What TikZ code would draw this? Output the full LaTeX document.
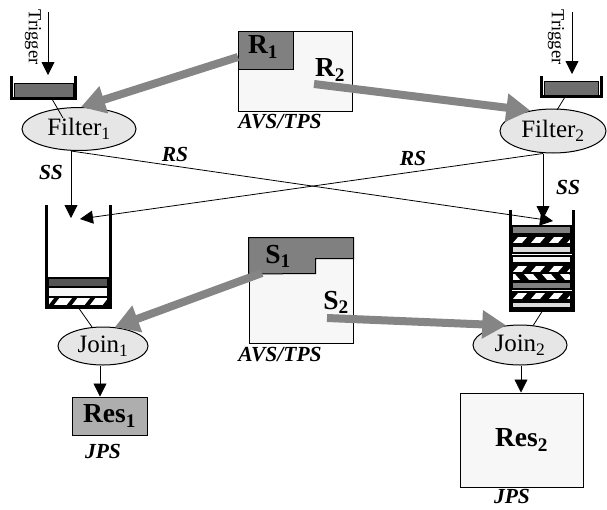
\documentclass[tikz,border=0pt]{standalone}
\usepackage{fontspec}
\setmainfont{Liberation Serif}
\usetikzlibrary{shapes.geometric,arrows.meta}

\definecolor{boxfill}{HTML}{F7F7F7}
\definecolor{ellfill}{HTML}{E6E6E6}
\definecolor{darkfill}{HTML}{808080}
\definecolor{arrgray}{HTML}{858585}
\definecolor{trayfill}{HTML}{6E6E6E}
\definecolor{resfill}{HTML}{AEAEAE}
\definecolor{lightband}{HTML}{DCDCDC}
\definecolor{darkband}{HTML}{555555}

\tikzset{
 ell/.style={ellipse, draw, line width=1pt, fill=ellfill, inner sep=0pt, font=\fontsize{25}{25}\selectfont},
 arr/.style={-{Triangle[length=13pt,width=13pt]}, line width=0.8pt},
 garr/.style={-{Triangle[length=24pt,width=27pt]}, line width=8pt, draw=arrgray},
 lab/.style={font=\fontsize{21.5}{21.5}\selectfont\bfseries\itshape, inner sep=0pt},
 big/.style={font=\fontsize{27.5}{27.5}\selectfont\bfseries, inner sep=0pt},
 trig/.style={font=\fontsize{18.5}{18.5}\selectfont, rotate=-90, inner sep=0pt},
 wall/.style={line width=3pt},
 band/.style={draw, line width=1.2pt},
 thin/.style={line width=0.8pt},
}

\newcommand\stripeband[8]{%
 \begin{scope}
  \clip (#1,#2) rectangle (#3,#4);
  \fill[#5] (#1,#2) rectangle (#3,#4);
  \begin{scope}[shift={(#1,#4)}]
   \foreach \xx in {-18,0,...,72}{
    \fill[#6] (\xx,0) -- (\xx+#8,0) -- (\xx+#8+#7,{-(#4-#2)}) -- (\xx+#7,{-(#4-#2)}) -- cycle;
   }
  \end{scope}
 \end{scope}
 \draw[line width=1.2pt] (#1,#2) rectangle (#3,#4);
}

\begin{document}
\begin{tikzpicture}[x=1pt,y=-1pt]
\useasboundingbox (0,0) rectangle (607,509);

% ---------- top AVS/TPS box ----------
\node[draw, line width=1pt, fill=boxfill, minimum width=114pt, minimum height=80pt, inner sep=0pt] (avs1) at (295,71) {};
\node[draw, line width=1pt, fill=darkfill, minimum width=55pt, minimum height=38pt, inner sep=0pt, anchor=north west] (r1) at (avs1.north west) {};
\node[lab] (avs1lab) at (280,122) {AVS/TPS};

% ---------- trays ----------
\filldraw[fill=trayfill, thin] (14,83) rectangle (73,97);
\draw[wall] (11,76) -- (11,98.5) -- (75,98.5) -- (75,76);
\filldraw[fill=trayfill, thin] (544,81) rectangle (598,95);
\draw[wall] (541,76) -- (541,96.5) -- (601,96.5) -- (601,76);

% ---------- triggers ----------
\coordinate (tr1s) at (48,12);
\coordinate (tr1e) at (48,75);
\draw[arr] (tr1s) -- (tr1e);
\node[trig] (trig1) at (33,37) {Trigger};
\coordinate (tr2s) at (572,12);
\coordinate (tr2e) at (572,74);
\draw[arr] (tr2s) -- (tr2e);
\node[trig] (trig2) at (556,37) {Trigger};

% ---------- filters ----------
\node[ell, minimum width=114pt, minimum height=43pt] (f1) at (79,129) {Filter\textsubscript{1}};
\node[ell, minimum width=106pt, minimum height=44pt] (f2) at (553,131) {Filter\textsubscript{2}};

\coordinate (t1b) at (52,99);
\coordinate (t1e) at (63,118);
\draw[thin] (t1b) -- (t1e);
\coordinate (t2b) at (565,97);
\coordinate (t2e) at (557,110);
\draw[thin] (t2b) -- (t2e);

% ---------- gray arrows from R ----------
\coordinate (r1s) at (238,57);
\draw[garr] (r1s) -- (f1.85);
\coordinate (r2s) at (314,84);
\draw[garr] (r2s) -- (f2.138);
\node[big] (r1lab) at (263,47) {R\textsubscript{1}};
\node[big] (r2lab) at (330,70) {R\textsubscript{2}};

% ---------- SS / RS ----------
\coordinate (c1ss) at (71,218);
\coordinate (c1rs) at (80,219);
\coordinate (c2ss) at (543,219);
\coordinate (c2rs) at (553,221);
\draw[arr] (f1.south -| c1ss) -- (c1ss);
\draw[arr] (f2.south -| c2ss) -- (c2ss);
\draw[arr] (f1.south -| c1ss) -- (c2rs);
\draw[arr] (f2.south -| c2ss) -- (c1rs);
\node[lab] (ss1) at (51,172) {SS};
\node[lab] (ss2) at (568,187) {SS};
\node[lab] (rs1) at (175,154) {RS};
\node[lab] (rs2) at (413,158) {RS};

% ---------- left container ----------
\filldraw[fill=darkband, band] (48,278) rectangle (108,287);
\filldraw[fill=boxfill, band] (48,287) rectangle (108,297);
\stripeband{48}{297}{108}{306}{white}{black}{7}{5}
\draw[wall] (46,205) -- (46,307) -- (110,307) -- (110,205);

% ---------- right container ----------
\filldraw[fill=darkfill, band] (512,226) rectangle (571,234);
\stripeband{512}{236}{571}{244}{black}{white}{7}{9}
\filldraw[fill=lightband, band] (512,246) rectangle (571,253);
\filldraw[fill=boxfill, band] (512,256) rectangle (571,263);
\stripeband{512}{265}{571}{273}{black}{white}{7}{9}
\stripeband{512}{273}{571}{281}{black}{white}{-7}{9}
\filldraw[fill=darkfill, band] (512,282) rectangle (571,289);
\stripeband{512}{292}{571}{300}{black}{white}{7}{9}
\filldraw[fill=lightband, band] (512,302) rectangle (571,308);
\draw[wall] (510,210) -- (510,310) -- (573,310) -- (573,210);

% ---------- lower AVS/TPS box ----------
\node[draw, line width=1pt, fill=boxfill, minimum width=104pt, minimum height=105pt, inner sep=0pt] (avs2) at (301,290.5) {};
\filldraw[fill=darkfill, line width=1pt] (avs2.north west) -- (avs2.north east) -- ++(0,21) -- ++(-38,0) -- ++(0,15) -- (avs2.north west |- 0,274) -- cycle;
\node[lab] (avs2lab) at (280,355) {AVS/TPS};

% ---------- joins ----------
\node[ell, minimum width=90pt, minimum height=38pt] (j1) at (103,346) {Join\textsubscript{1}};
\node[ell, minimum width=94pt, minimum height=40pt] (j2) at (520,345) {Join\textsubscript{2}};

\coordinate (c1bot) at (78,307);
\coordinate (c2bot) at (543,310);
\draw[thin] (c1bot) -- (j1.120);
\draw[thin] (c2bot) -- (j2.56);

\coordinate (s1s) at (262,273);
\draw[garr] (s1s) -- (j1.58);
\coordinate (s2s) at (327,318);
\draw[garr] (s2s) -- (j2.125);
\node[big] (s1lab) at (278,256) {S\textsubscript{1}};
\node[big] (s2lab) at (336,302) {S\textsubscript{2}};

% ---------- results ----------
\node[draw, line width=1pt, fill=resfill, minimum width=75pt, minimum height=38pt, big] (res1) at (109.5,416) {Res\textsubscript{1}};
\node[draw, line width=1pt, fill=boxfill, minimum width=123pt, minimum height=94pt, big] (res2) at (521.5,440) {Res\textsubscript{2}};
\node[lab] (jps1) at (103,451) {JPS};
\node[lab] (jps2) at (512,496) {JPS};

\draw[arr] (j1.south -| 100,0) -- (res1.north -| 100,0);
\draw[arr] (j2.south -| 521,0) -- (res2.north -| 521,0);
\end{tikzpicture}
\end{document}
